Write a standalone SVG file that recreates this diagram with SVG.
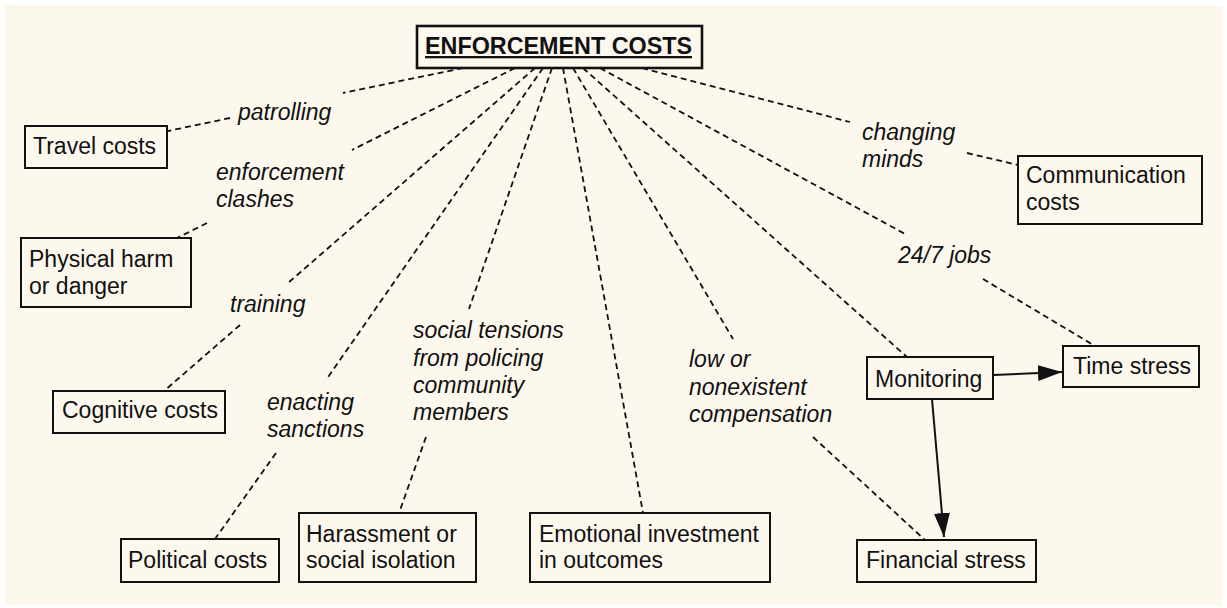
<svg xmlns="http://www.w3.org/2000/svg" width="1227" height="608" viewBox="0 0 1227 608">
<style>
.box{fill:#fdf8ee;stroke:#111;stroke-width:2}
.main{fill:#fdf8ee;stroke:#111;stroke-width:2.6}
.t{font-family:"Liberation Sans",Arial,sans-serif;font-size:23px;fill:#111}
.lbl{font-family:"Liberation Sans",Arial,sans-serif;font-size:23px;font-style:italic;fill:#111}
.title{font-family:"Liberation Sans",Arial,sans-serif;font-size:23px;font-weight:bold;text-decoration:underline;fill:#111}
.d{stroke:#111;stroke-width:1.8;stroke-dasharray:6 4;fill:none}
.s{stroke:#111;stroke-width:2;fill:none;marker-end:url(#ah)}
</style>
<defs>
<marker id="ah" markerUnits="userSpaceOnUse" markerWidth="26" markerHeight="18" refX="24" refY="8" orient="auto">
<path d="M0,0 L24,8 L0,16 Z" fill="#111"/>
</marker>
</defs>
<rect x="0" y="0" width="1227" height="608" fill="#ffffff"/>
<rect x="5" y="5" width="1218" height="600" fill="#fdf8ee"/>

<g id="connectors">
<line class="d" x1="463" y1="68" x2="343" y2="93"/>
<line class="d" x1="230" y1="118" x2="168" y2="131"/>
<line class="d" x1="515" y1="68" x2="352" y2="150"/>
<line class="d" x1="207" y1="223" x2="177" y2="238"/>
<line class="d" x1="535" y1="68" x2="288" y2="283"/>
<line class="d" x1="240" y1="325" x2="164" y2="391"/>
<line class="d" x1="543" y1="68" x2="326" y2="380"/>
<line class="d" x1="276" y1="453" x2="215" y2="539"/>
<line class="d" x1="552" y1="68" x2="469" y2="309"/>
<line class="d" x1="426" y1="437" x2="399" y2="513"/>
<line class="d" x1="563" y1="68" x2="643" y2="513"/>
<line class="d" x1="573" y1="68" x2="733" y2="339"/>
<line class="d" x1="813" y1="437" x2="925" y2="540"/>
<line class="d" x1="583" y1="68" x2="907" y2="357"/>
<line class="d" x1="600" y1="68" x2="907" y2="235"/>
<line class="d" x1="983" y1="279" x2="1095" y2="346"/>
<line class="d" x1="642" y1="68" x2="850" y2="122"/>
<line class="d" x1="967" y1="153" x2="1018" y2="165"/>
<line class="s" x1="993" y1="375" x2="1062" y2="372"/>
<line class="s" x1="932" y1="399" x2="944" y2="537"/>
</g>

<g id="labels">
<text class="lbl" x="238" y="120">patrolling</text>
<text class="lbl" x="216" y="180">enforcement</text>
<text class="lbl" x="216" y="207">clashes</text>
<text class="lbl" x="230" y="312">training</text>
<text class="lbl" x="267" y="410">enacting</text>
<text class="lbl" x="267" y="437">sanctions</text>
<text class="lbl" x="413" y="338">social tensions</text>
<text class="lbl" x="413" y="366">from policing</text>
<text class="lbl" x="413" y="393">community</text>
<text class="lbl" x="413" y="420">members</text>
<text class="lbl" x="689" y="367">low or</text>
<text class="lbl" x="689" y="395">nonexistent</text>
<text class="lbl" x="689" y="422">compensation</text>
<text class="lbl" x="898" y="263">24/7 jobs</text>
<text class="lbl" x="862" y="140">changing</text>
<text class="lbl" x="862" y="167">minds</text>
</g>

<g id="enforcement-costs">
<rect class="main" x="417" y="26" width="285" height="42"/>
<text class="title" x="425" y="54" textLength="267" lengthAdjust="spacingAndGlyphs">ENFORCEMENT COSTS</text>
</g>
<g id="travel-costs">
<rect class="box" x="25" y="126" width="142" height="42"/>
<text class="t" x="33" y="154">Travel costs</text>
</g>
<g id="physical-harm">
<rect class="box" x="21" y="238" width="170" height="69"/>
<text class="t" x="29" y="267">Physical harm</text>
<text class="t" x="29" y="294">or danger</text>
</g>
<g id="cognitive-costs">
<rect class="box" x="53" y="391" width="172" height="42"/>
<text class="t" x="62" y="418">Cognitive costs</text>
</g>
<g id="political-costs">
<rect class="box" x="121" y="539" width="158" height="43"/>
<text class="t" x="128" y="568">Political costs</text>
</g>
<g id="harassment">
<rect class="box" x="299" y="513" width="177" height="69"/>
<text class="t" x="306" y="542">Harassment or</text>
<text class="t" x="306" y="568">social isolation</text>
</g>
<g id="emotional-investment">
<rect class="box" x="530" y="513" width="240" height="69"/>
<text class="t" x="539" y="542">Emotional investment</text>
<text class="t" x="539" y="568">in outcomes</text>
</g>
<g id="financial-stress">
<rect class="box" x="857" y="540" width="179" height="42"/>
<text class="t" x="866" y="568">Financial stress</text>
</g>
<g id="monitoring">
<rect class="box" x="867" y="357" width="126" height="42"/>
<text class="t" x="875" y="387">Monitoring</text>
</g>
<g id="time-stress">
<rect class="box" x="1063" y="346" width="136" height="41"/>
<text class="t" x="1073" y="374">Time stress</text>
</g>
<g id="communication-costs">
<rect class="box" x="1018" y="156" width="184" height="68"/>
<text class="t" x="1026" y="183">Communication</text>
<text class="t" x="1026" y="210">costs</text>
</g>
</svg>
